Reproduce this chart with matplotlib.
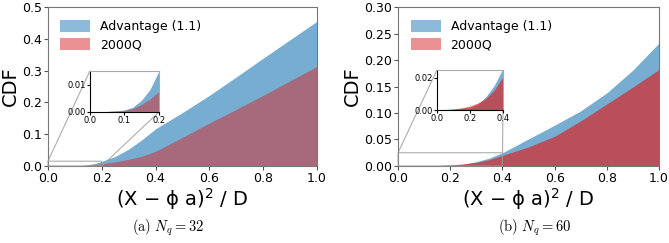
import numpy as np
import matplotlib
matplotlib.use("Agg")
import matplotlib.pyplot as plt

# ---- data ----
x_a = [0, 0.05, 0.1, 0.125, 0.15, 0.175, 0.2, 0.25, 0.3, 0.35, 0.4, 0.5, 0.6, 0.7, 0.8, 0.9, 1.0]
adv_a = [0, 0, 0.0005, 0.0015, 0.004, 0.008, 0.0145, 0.03, 0.053, 0.083, 0.117, 0.168, 0.222, 0.28, 0.339, 0.397, 0.455]
q2k_a = [0, 0, 0.0003, 0.001, 0.0025, 0.0045, 0.0072, 0.013, 0.021, 0.031, 0.046, 0.090, 0.135, 0.178, 0.222, 0.268, 0.313]

x_b = [0, 0.05, 0.1, 0.15, 0.2, 0.25, 0.3, 0.35, 0.4, 0.5, 0.6, 0.7, 0.8, 0.9, 1.0]
adv_b = [0, 0, 0.0002, 0.0006, 0.001, 0.003, 0.008, 0.015, 0.025, 0.051, 0.077, 0.104, 0.138, 0.181, 0.232]
q2k_b = [0, 0, 0.0003, 0.001, 0.002, 0.004, 0.007, 0.012, 0.020, 0.036, 0.056, 0.085, 0.117, 0.149, 0.182]

labels = ["Advantage (1.1)", "2000Q"]
captions = [r"$\mathrm{(a)}\ N_q = 32$", r"$\mathrm{(b)}\ N_q = 60$"]

BLUE = "#1f77b4"
RED = "#d62728"

fig = plt.figure(figsize=(6.69, 2.43), dpi=100)

def panel(rect, x, adv, q2k, ylim, yticks, yfmt, ins_rect, ins_xlim, ins_ylim, ins_xticks, ins_yticks, ins_fmt, red_alpha):
    ax = fig.add_axes(rect)
    ax.fill_between(x, adv, color=BLUE, alpha=0.6, lw=0, label=labels[0])
    ax.fill_between(x, q2k, color=RED, alpha=red_alpha, lw=0, label=labels[1])
    ax.set_xlim(0, 1)
    ax.set_ylim(*ylim)
    ax.set_xticks([0, 0.2, 0.4, 0.6, 0.8, 1.0])
    ax.set_xticklabels([f"{v:.1f}" for v in [0, 0.2, 0.4, 0.6, 0.8, 1.0]])
    ax.set_yticks(yticks)
    ax.set_yticklabels([yfmt.format(v) for v in yticks])
    ax.tick_params(labelsize=9, length=3, color="#555555", pad=1)
    for s in ax.spines.values():
        s.set_color("#777777")
    ax.set_ylabel("CDF", fontsize=14, labelpad=2)
    ax.set_xlabel("(X \u2212 \u03d5 a)$^2$ / D", fontsize=14, labelpad=1)
    leg = ax.legend(loc="upper left", frameon=False, fontsize=9, handlelength=2.4,
                    handleheight=1.1, borderaxespad=0.6, labelspacing=0.45)
    for h in leg.legend_handles:
        h.set_alpha(0.6 if h.get_label() == labels[0] else 0.5)

    ins = ax.inset_axes(ins_rect)
    ins.fill_between(x, adv, color=BLUE, alpha=0.6, lw=0)
    ins.fill_between(x, q2k, color=RED, alpha=red_alpha, lw=0)
    ins.set_xlim(*ins_xlim)
    ins.set_ylim(*ins_ylim)
    ins.set_xticks(ins_xticks)
    ins.set_xticklabels([f"{v:.1f}" for v in ins_xticks])
    ins.set_yticks(ins_yticks)
    ins.set_yticklabels([ins_fmt.format(v) for v in ins_yticks])
    ins.tick_params(labelsize=6, length=2, pad=1)
    ins.spines["top"].set_color("#aaaaaa")
    ins.spines["right"].set_color("#aaaaaa")
    ax.indicate_inset_zoom(ins, edgecolor="#999999", alpha=0.8, linewidth=0.8)
    return ax

axa = panel([0.0717, 0.317, 0.402, 0.654], x_a, adv_a, q2k_a, (0, 0.5),
            [0, 0.1, 0.2, 0.3, 0.4, 0.5], "{:.1f}",
            [0.156, 0.34, 0.257, 0.258], (0, 0.2), (0, 0.015),
            [0, 0.1, 0.2], [0, 0.01], "{:.2f}", 0.5)
axb = panel([0.595, 0.317, 0.390, 0.654], x_b, adv_b, q2k_b, (0, 0.30),
            [0, 0.05, 0.10, 0.15, 0.20, 0.25, 0.30], "{:.2f}",
            [0.149, 0.352, 0.253, 0.252], (0, 0.4), (0, 0.025),
            [0, 0.2, 0.4], [0, 0.02], "{:.2f}", 0.7)

fig.text(0.2515, 0.062, captions[0], ha="center", va="center", fontsize=10.5, math_fontfamily="cm")
fig.text(0.80, 0.062, captions[1], ha="center", va="center", fontsize=10.5, math_fontfamily="cm")

fig.savefig("out.png", dpi=100)
